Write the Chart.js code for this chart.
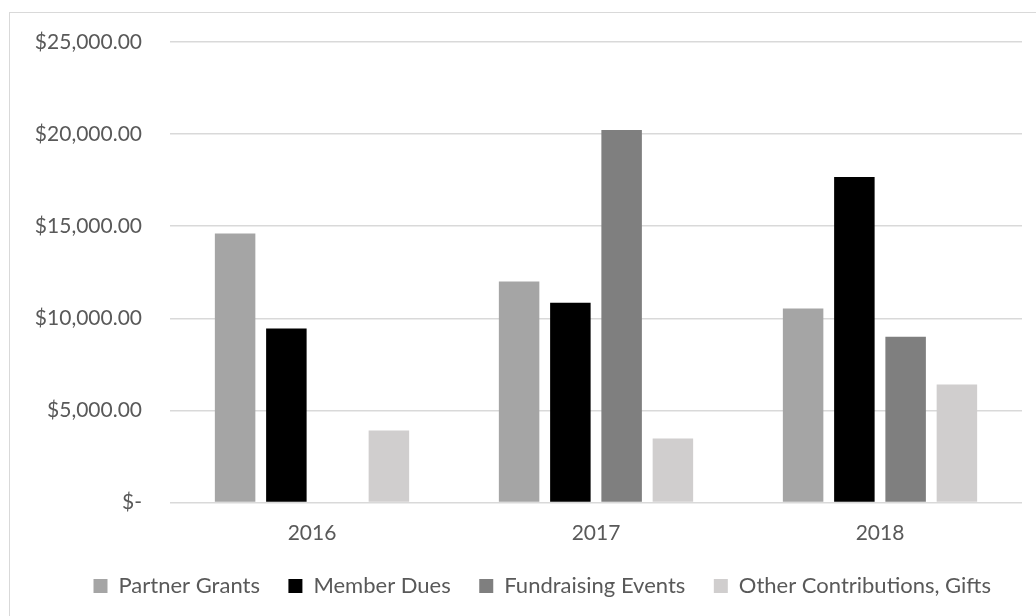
<!DOCTYPE html>
<html>
<head>
<meta charset="utf-8">
<script src="https://cdn.jsdelivr.net/npm/chart.js@4/dist/chart.umd.min.js"></script>
<style>
  html, body { margin: 0; padding: 0; background: #ffffff; }
  #wrap { position: relative; width: 1036px; height: 616px; }
</style>
</head>
<body>
<div id="wrap"><canvas id="revenueChart" width="1036" height="616"></canvas></div>
<script>
// Revenue by source, per year
const years = ["2016", "2017", "2018"];
const partnerGrants = [14610, 12000, 10530];
const memberDues = [9440, 10850, 17665];
const fundraisingEvents = [0, 20225, 9000];
const otherGifts = [3910, 3480, 6400];
const yTicks = [0, 5000, 10000, 15000, 20000, 25000];

const textColor = "#595959";
const fontFamily = "Lato, 'Open Sans', sans-serif";

function money(v) {
    if (v === 0) return "$-";
    return "$" + v.toLocaleString("en-US", { minimumFractionDigits: 2, maximumFractionDigits: 2 });
}

// thin grey frame round the whole chart, and the legend pulled in from the left edge
const framePlugin = {
    id: "frame",
    afterLayout(chart) {
        chart.legend.left = 65;
    },
    beforeDraw(chart) {
        const c = chart.ctx;
        c.save();
        c.strokeStyle = "#d9d9d9";
        c.lineWidth = 1;
        c.strokeRect(9.5, 12.5, 1200, 800);
        c.restore();
    }
};

function series(label, data, color) {
    return {
        label: label,
        data: data,
        backgroundColor: color,
        borderColor: color,
        borderWidth: 0,
        categoryPercentage: 0.722,
        barPercentage: 0.79
    };
}

const ctx = document.getElementById("revenueChart").getContext("2d");
new Chart(ctx, {
    type: "bar",
    data: {
        labels: years,
        datasets: [
            series("Partner Grants", partnerGrants, "#a5a5a5"),
            series("Member Dues", memberDues, "#000000"),
            series("Fundraising Events", fundraisingEvents, "#7f7f7f"),
            series("Other Contributions, Gifts", otherGifts, "#d0cece")
        ]
    },
    plugins: [framePlugin],
    options: {
        responsive: false,
        animation: false,
        layout: { padding: { left: 0, right: 14, top: 42, bottom: 9 } },
        plugins: {
            tooltip: { enabled: false },
            legend: {
                position: "bottom",
                align: "start",
                labels: {
                    color: textColor,
                    font: { family: fontFamily, size: 22 },
                    boxWidth: 14,
                    boxHeight: 14,
                    padding: 28.5
                }
            }
        },
        scales: {
            x: {
                afterFit(scale) { scale.height = 44; },
                grid: { display: false, drawTicks: false },
                border: { display: false },
                ticks: {
                    color: textColor,
                    font: { family: fontFamily, size: 21 },
                    padding: 18
                }
            },
            y: {
                min: 0,
                max: 25000,
                afterFit(scale) { scale.width = 170; },
                afterBuildTicks(scale) { scale.ticks = yTicks.map(v => ({ value: v })); },
                border: { display: false },
                grid: { color: "#d9d9d9", lineWidth: 1.5, drawTicks: false },
                ticks: {
                    color: textColor,
                    font: { family: fontFamily, size: 21 },
                    padding: 28,
                    callback: v => money(v)
                }
            }
        }
    }
});
</script>
</body>
</html>
